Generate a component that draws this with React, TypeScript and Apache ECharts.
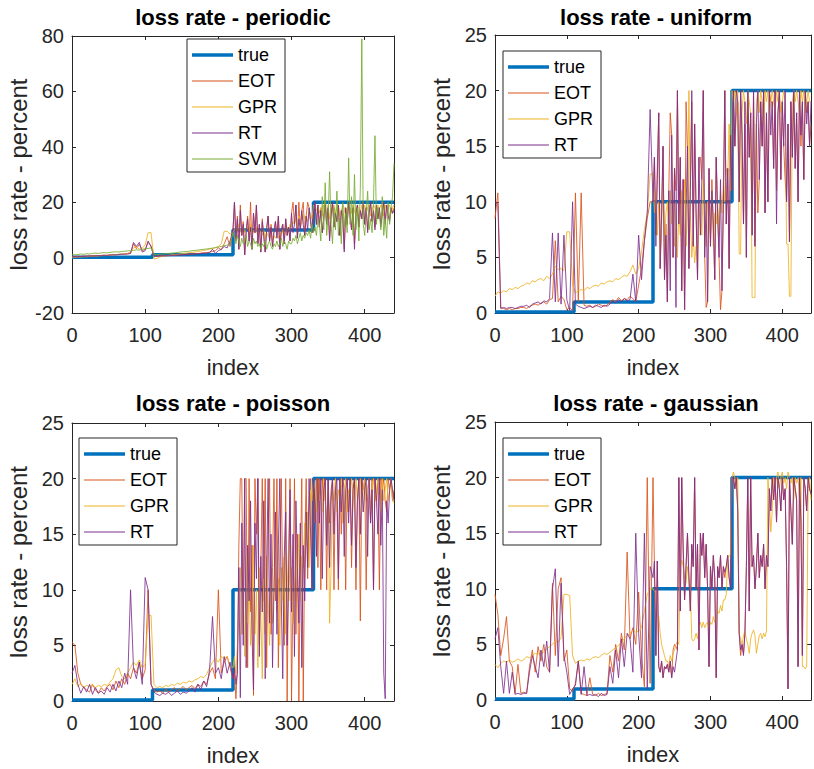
import { useEffect, useRef } from 'react';
import * as echarts from 'echarts';

const FONT = '"Liberation Sans", Arial, Helvetica, sans-serif';
const AXIS_COLOR = '#262626';

const COLORS: Record<string, string> = {
  true: '#0072BD',
  EOT: '#D95319',
  GPR: '#EDB120',
  RT: '#7E2F8E',
  SVM: '#77AC30',
};

// legend swatches: a bar inside a 41x18 box (the moveTo points fix the box)
const THICK_ICON = 'path://M0,0M41,18M0,7.25H41V10.75H0Z';
const THIN_ICON = 'path://M0,0M41,18M0,8.5H41V9.5H0Z';

// estimated values: every 4th index for 0..216, every 2nd index for 220..440
const LOW_STEP = 4;
const HIGH_START = 220;
const HIGH_STEP = 2;

// true loss rate: level held from each start index to the next
const trueStarts = [0, 110, 220, 330, 440];
const trueLevels = [0.1, 1, 10, 20, 20];

const xTicks = [0, 100, 200, 300, 400];

// ---- periodic ----
const periodicEOTLow = [
  0.3, 0.4, 0.5, 0.4, 0.6, 0.5, 0.7, 0.6, 0.8, 0.7,
  0.8, 0.9, 0.8, 1.0, 1.1, 1.0, 1.2, 1.3, 1.2, 1.4,
  1.5, 5.0, 3.2, 4.8, 2.5, 3.0, 5.5, 4.2, 0.5, 0.4,
  0.6, 0.7, 0.6, 0.8, 0.9, 0.8, 1.0, 1.1, 1.0, 1.2,
  1.3, 1.2, 1.5, 1.4, 1.6, 1.8, 1.7, 2.0, 2.2, 2.5,
  3.5, 2.8, 5.0, 7.5, 4.0,
];
const periodicEOTHigh = [
  10, 20, 7, 15, 3, 19, 8, 13, 1, 10,
  15, 6, 20, 3, 16, 9, 19, 5, 12, 2,
  14, 8, 2, 11, 15, 6, 12, 4, 10, 13,
  8, 15, 3, 10, 12, 5, 14, 8, 11, 6,
  16, 20, 12, 19, 7, 20, 10, 17, 20, 8,
  15, 20, 18, 13, 9, 16, 20, 12, 19, 11,
  18, 9, 14, 20, 12, 18, 7, 15, 20, 11,
  16, 13, 19, 8, 17, 15, 3, 18, 12, 20,
  15, 10, 18, 5, 16, 19, 11, 17, 14, 20,
  12, 18, 10, 16, 20, 13, 17, 11, 19, 14,
  18, 12, 16, 20, 13, 19, 15, 14, 18, 16,
  18,
];
const periodicGPRLow = [
  0.0, 0.1, 0.2, 0.2, 0.3, 0.3, 0.4, 0.5, 0.5, 0.6,
  0.7, 0.7, 0.8, 0.9, 1.0, 1.1, 1.1, 1.2, 1.3, 1.5,
  2.0, 3.5, 4.0, 3.0, 3.5, 4.5, 9.0, 9.0, -0.5, -0.3,
  0.2, 0.5, 0.6, 0.8, 1.0, 1.1, 1.2, 1.3, 1.5, 1.6,
  1.8, 1.9, 2.0, 2.2, 2.4, 2.6, 2.8, 3.0, 3.3, 3.6,
  4.0, 5.0, 9.5, 9.5, 8.5,
];
const periodicGPRHigh = [
  9, 10, 11, 9, 12, 10, 8, 11, 9, 10,
  11, 9, 12, 8, 10, 9, 11, 7, 10, 9,
  8, 10, 7, 9, 8, 7, 9, 6, 8, 7,
  8, 7, 9, 8, 10, 8, 9, 11, 10, 12,
  11, 13, 12, 14, 11, 15, 13, 12, 16, 14,
  15, 13, 17, 16, 14, 19, 18, 17, 19, 16,
  18, 15, 19, 17, 16, 19, 14, 18, 17, 19,
  16, 18, 19, 15, 17, 19, 18, 14, 17, 19,
  18, 16, 19, 17, 15, 19, 18, 16, 19, 17,
  19, 16, 18, 19, 15, 17, 19, 18, 16, 19,
  17, 19, 18, 15, 19, 17, 18, 19, 16, 18,
  19,
];
const periodicRTLow = [
  0.2, 0.3, 0.3, 0.4, 0.4, 0.5, 0.5, 0.6, 0.6, 0.7,
  0.7, 0.8, 0.8, 0.9, 1.0, 1.0, 1.1, 1.2, 1.3, 1.3,
  1.5, 5.5, 4.0, 5.5, 2.0, 2.5, 6.0, 4.0, 0.5, 0.5,
  0.6, 0.6, 0.7, 0.7, 0.8, 0.9, 0.9, 1.0, 1.0, 1.1,
  1.2, 1.3, 1.3, 1.4, 1.5, 1.5, 1.7, 1.8, 3.0, 1.5,
  2.5, 3.0, 4.0, 3.5, 6.0,
];
const periodicRTHigh = [
  10, 20, 6, 14, 3, 17, 8, 12, 1, 9,
  14, 6, 11, 3, 16, 9, 19, 5, 12, 2,
  13, 8, 2, 10, 15, 6, 11, 4, 9, 13,
  7, 15, 3, 10, 12, 5, 14, 8, 11, 6,
  16, 9, 12, 19, 7, 14, 10, 17, 12, 8,
  15, 10, 18, 13, 9, 16, 20, 12, 19, 11,
  17, 9, 14, 19, 12, 18, 6, 15, 20, 11,
  16, 13, 19, 8, 17, 14, 2, 18, 12, 20,
  15, 10, 18, 3, 16, 19, 11, 17, 14, 20,
  12, 18, 9, 16, 20, 13, 17, 10, 19, 14,
  18, 11, 16, 20, 12, 19, 15, 13, 18, 16,
  17,
];
const periodicSVMLow = [
  1.2, 1.0, 1.1, 1.3, 1.2, 1.4, 1.3, 1.5, 1.6, 1.5,
  1.7, 1.8, 1.7, 1.9, 2.0, 2.1, 2.0, 2.2, 2.3, 2.4,
  2.5, 2.6, 2.8, 2.7, 3.0, 3.2, 3.3, 3.5, 1.2, 1.0,
  1.2, 1.3, 1.4, 1.5, 1.6, 1.7, 1.9, 2.0, 2.1, 2.2,
  2.3, 2.5, 2.6, 2.7, 2.9, 3.0, 3.1, 3.3, 3.4, 3.6,
  3.8, 4.0, 4.3, 4.5, 5.0,
];
const periodicSVMHigh = [
  9, 7, 5, 8, 6, 4, 7, 5, 6, 8,
  4, 6, 5, 3, 7, 5, 6, 4, 5, 3,
  5, 4, 6, 3, 5, 6, 4, 3, 5, 4,
  6, 4, 5, 7, 4, 6, 5, 3, 6, 5,
  5, 7, 6, 8, 5, 7, 9, 6, 8, 7,
  9, 8, 10, 7, 12, 9, 11, 8, 14, 12,
  6, 22, 10, 27, 8, 15, 31, 12, 5, 18,
  10, 24, 8, 14, 5, 20, 11, 16, 9, 36,
  12, 22, 8, 30, 10, 18, 6, 25, 79, 12,
  8, 16, 24, 10, 14, 9, 20, 44, 12, 18,
  16, 10, 22, 8, 14, 7, 20, 12, 18, 22,
  34,
];

// ---- uniform ----
const uniformEOTLow = [
  8.5, 10.8, 0.5, 0.4, 0.3, 0.4, 0.3, 0.4, 0.4, 0.5,
  0.5, 0.4, 0.6, 0.7, 0.8, 0.7, 0.9, 1.0, 0.8, 1.2,
  1.3, 6.5, 1.0, 1.5, 1.2, 0.3, 0.5, 0.2, 10.8, 1.0,
  10.8, 0.7, 0.6, 0.7, 0.5, 0.6, 0.8, 0.7, 0.6, 0.7,
  1.0, 1.2, 1.0, 1.4, 1.1, 1.3, 1.2, 1.5, 1.3, 1.0,
  2.5, 4.0, 6.5, 8.5, 10.0,
];
const uniformEOTHigh = [
  10, 14, 7, 13, 18, 4, 9, 15, 3, 8,
  1, 11, 18, 16, 5, 13, 11, 20, 8, 14,
  2, 12, 0.3, 19, 15, 4, 11, 19, 6, 17,
  9, 3, 14, 14, 12, 20, 5, 0.5, 1, 13,
  6, 12, 8, 3, 14, 9, 5, 0.3, 2, 10,
  20, 8, 13, 4, 16, 11, 20, 15, 18, 19,
  10, 20, 16, 8, 17, 5, 20, 14, 18, 7,
  20, 6, 17, 9, 12, 19, 15, 20, 9, 18,
  10, 20, 19, 19, 13, 20, 11, 18, 20, 12,
  19, 15, 12, 10, 17, 6.4, 19, 14, 20, 13,
  18, 10, 20, 15, 19, 12, 20, 18, 19, 15,
  16.8,
];
const uniformGPRLow = [
  1.5, 1.9, 1.8, 2.0, 1.9, 2.2, 2.1, 2.3, 2.2, 2.4,
  2.5, 2.7, 2.6, 2.9, 2.8, 3.0, 3.1, 2.9, 3.3, 3.1,
  3.5, 4.2, 3.9, 4.0, 3.8, 7.3, 7.3, 2.5, 1.8, 2.0,
  2.1, 2.0, 2.3, 2.2, 2.4, 2.5, 2.4, 2.7, 2.6, 2.8,
  2.9, 2.8, 3.1, 3.0, 3.2, 3.4, 3.3, 3.7, 4.3, 3.5,
  4.0, 5.5, 7.5, 9.0, 12.5,
];
const uniformGPRHigh = [
  12.5, 9, 11, 7, 10, 5, 8, 12, 6, 9,
  10, 7, 11, 8, 9, 6, 10, 5, 9, 7,
  11, 8, 12, 6, 10, 20, 9, 5, 7, 4.5,
  6, 5.5, 8, 10, 7, 12, 9, 6, 10, 8,
  7, 11, 6, 9, 8, 10, 7, 11, 9, 12,
  10, 13, 12, 17, 11, 20, 19, 20, 18, 20,
  5.3, 5.3, 18, 20, 19, 17, 20, 19, 18, 1.4,
  1.4, 1.4, 19, 20, 18, 20, 19, 17, 20, 19,
  20, 18, 19, 20, 19, 18, 20, 19, 20, 18,
  19, 20, 19, 6.2, 6.2, 1.5, 1.5, 19, 20, 19,
  20, 19, 18, 20, 19, 20, 18, 19, 20, 19,
  19,
];
const uniformRTLow = [
  10.0, 9.8, 0.4, 0.5, 0.4, 0.5, 0.5, 0.4, 0.5, 0.6,
  0.6, 0.7, 0.5, 0.8, 0.9, 1.0, 0.8, 1.1, 1.0, 1.3,
  7.2, 1.0, 7.2, 0.8, 7.0, 1.2, 0.2, 10.0, 0.8, 0.6,
  0.5, 0.4, 0.5, 0.6, 0.5, 0.7, 0.6, 0.5, 0.7, 0.6,
  0.8, 1.1, 0.9, 1.2, 1.0, 1.3, 1.1, 1.2, 3.5, 1.0,
  7.0, 3.0, 6.5, 9.0, 18.3,
];
const uniformRTHigh = [
  10, 14, 6, 12, 18, 4, 9, 15, 3, 7,
  1, 11, 2, 16, 5, 13, 0.5, 20, 8, 14,
  2, 12, 0.3, 9, 15, 4, 11, 20, 6, 17,
  9, 3, 14, 7, 12, 20, 5, 10, 1, 13,
  6, 11, 8, 3, 14, 9, 5, 12, 2, 10,
  20, 8, 13, 4, 16, 11, 20, 15, 20, 19,
  10, 20, 16, 8, 19, 5, 20, 14, 18, 7,
  20, 6, 17, 20, 12, 19, 15, 20, 9, 18,
  10, 20, 16, 19, 13, 20, 8, 18, 20, 12,
  19, 15, 20, 10, 17, 6.4, 19, 14, 20, 13,
  18, 10, 20, 16, 19, 12, 20, 17, 19, 15,
  19,
];

// ---- poisson ----
const poissonEOTLow = [
  5.3, 5.0, 2.5, 1.5, 1.2, 1.0, 0.8, 1.5, 1.0, 0.7,
  1.2, 0.9, 1.3, 1.5, 1.0, 1.8, 1.2, 2.0, 1.5, 2.5,
  2.0, 3.0, 2.5, 3.5, 2.0, 2.8, 10.0, 1.5, 1.0, 0.8,
  0.9, 0.7, 1.1, 0.8, 1.0, 1.2, 0.9, 1.1, 1.3, 1.0,
  1.2, 1.4, 1.1, 1.5, 1.3, 1.8, 1.5, 2.5, 3.0, 2.0,
  10.0, 2.5, 3.5, 4.0, 3.0,
];
const poissonEOTHigh = [
  2, 2.5, 0.2, 3, 14, 20, 20, 6, 20, 20,
  3, 20, 8, 14, 0.5, 20, 15, 20, 5, 12,
  20, 9, 20, 3, 15, 20, 6, 12, 20, 9,
  20, 3, 13, 20, 10, 5, 20, 0, 13, 20,
  0, 10, 20, 6, 15, 0, 12, 20, 0, 14,
  20, 11, 17, 20, 10, 20, 16, 20, 12, 20,
  10, 20, 18, 20, 10, 20, 16, 19, 20, 10,
  20, 18, 10, 20, 15, 20, 19, 10, 20, 17,
  20, 12, 19, 20, 10, 18, 20, 7.2, 20, 19,
  20, 10, 19, 20, 16, 20, 10, 20, 18, 20,
  10, 20, 19, 20, 18, 17, 20, 19, 20, 18,
  19,
];
const poissonGPRLow = [
  1.5, 2.0, 1.3, 1.6, 1.2, 1.4, 1.3, 1.5, 1.2, 1.4,
  1.3, 1.5, 1.4, 1.7, 2.0, 2.8, 3.0, 2.2, 2.0, 2.5,
  3.0, 3.5, 3.2, 3.7, 3.0, 3.3, 7.7, 7.7, 1.5, 1.2,
  1.3, 1.2, 1.4, 1.3, 1.5, 1.4, 1.6, 1.5, 1.7, 1.6,
  1.8, 1.7, 1.9, 2.0, 2.2, 2.1, 2.4, 3.0, 3.5, 3.8,
  3.5, 4.0, 3.8, 4.0, 3.2,
];
const poissonGPRHigh = [
  3, 4, 2.5, 5, 8, 12, 6, 10, 4, 13,
  7, 11, 5, 9, 14, 6, 10, 3, 12, 8,
  2, 11, 6, 13, 9, 5, 12, 7, 10, 14,
  8, 11, 5, 12, 9, 13, 6, 10, 14, 9,
  12, 7, 10, 14, 11, 15, 9, 13, 12, 16,
  14, 17, 12, 19, 18, 20, 19, 17, 20, 18,
  19, 17, 20, 18, 16, 19, 7, 12, 19, 18,
  20, 17, 19, 18, 20, 16, 19, 20, 17, 19,
  18, 20, 19, 17, 20, 18, 19, 20, 17, 19,
  20, 18, 19, 20, 17, 19, 20, 18, 19, 20,
  19, 17, 20, 18, 19, 20, 18, 19, 20, 18,
  17.8,
];
const poissonRTLow = [
  2.5, 3.2, 1.5, 0.7, 1.3, 0.8, 1.5, 0.6, 1.2, 0.7,
  0.9, 0.6, 1.2, 0.8, 1.5, 0.9, 1.8, 1.2, 2.5, 1.5,
  10.0, 3.0, 2.0, 3.5, 1.5, 11.1, 10.0, 1.5, 0.8, 0.6,
  0.5, 0.7, 0.6, 0.8, 0.5, 0.7, 0.9, 0.6, 0.8, 0.7,
  0.9, 1.2, 0.8, 1.5, 1.0, 1.8, 1.3, 2.8, 7.6, 2.5,
  3.0, 2.0, 4.0, 2.5, 3.5,
];
const poissonRTHigh = [
  2, 3, 1.5, 2.5, 12, 0.3, 16, 5, 20, 3,
  14, 9, 18, 6, 1, 16, 11, 20, 4, 13,
  8, 18, 2, 12, 20, 7, 15, 3, 10, 17,
  6, 14, 20, 9, 2, 13, 17, 5, 11, 19,
  8, 15, 4, 18, 12, 7, 16, 3, 14, 9,
  17, 12, 20, 15, 10, 20, 18, 13, 20, 16,
  20, 11, 19, 20, 14, 20, 12, 18, 20, 15,
  19, 20, 11, 20, 17, 20, 13, 19, 20, 16,
  20, 14, 19, 20, 12, 18, 20, 15, 20, 17,
  19, 20, 13, 20, 16, 19, 10, 20, 18, 15,
  20, 14, 19, 2.5, 0.2, 18, 16, 19, 20, 19,
  18,
];

// ---- gaussian ----
const gaussianEOTLow = [
  9.5, 7.7, 4.0, 5.5, 7.5, 3.5, 3.0, 0.6, 3.2, 0.6,
  0.7, 0.6, 3.0, 4.5, 2.5, 4.8, 3.5, 5.0, 3.0, 2.5,
  10.5, 4.0, 10.0, 11.0, 3.5, 4.5, 1.0, 0.8, 1.5, 3.5,
  0.6, 0.5, 0.4, 2.0, 0.5, 0.4, 0.6, 0.4, 0.5, 0.6,
  4.0, 2.5, 5.0, 3.5, 6.0, 4.5, 13.3, 5.5, 6.5, 5.0,
  9.7, 4.0, 1.2, 20.0, 1.5,
];
const gaussianEOTHigh = [
  20, 12, 4, 12.5, 3, 2.5, 3.5, 2, 3, 2.8,
  3.2, 2.5, 3.5, 2, 4.5, 5, 4.8, 4.5, 20, 8,
  20, 13, 9, 12, 15, 11, 8, 14, 12, 20,
  10, 14, 4.5, 15, 13, 15, 11, 14, 10, 3,
  12, 10, 13, 11, 2, 12, 11, 13, 10, 12,
  11, 12, 13, 11, 10, 20, 20, 19, 20, 17,
  6, 4, 5, 4.2, 6, 12, 20, 8, 20, 12,
  13, 10, 12, 15, 11, 13, 12, 14, 10, 13,
  12, 19, 17, 20, 18, 20, 16, 20, 19, 17,
  20, 18, 19, 12, 1, 20, 17, 14, 20, 19,
  18, 3, 20, 16, 4, 20, 19, 17, 20, 19,
  18.5,
];
const gaussianGPRLow = [
  3.2, 2.9, 3.3, 3.5, 3.4, 3.6, 3.4, 3.5, 3.7, 3.5,
  3.6, 3.9, 3.8, 4.0, 4.2, 4.1, 4.4, 4.3, 4.6, 4.8,
  5.0, 5.3, 5.2, 5.6, 9.5, 9.5, 9.4, 4.0, 3.3, 3.5,
  3.6, 3.5, 3.7, 3.6, 3.8, 3.9, 3.8, 4.0, 4.2, 4.1,
  4.3, 4.5, 4.7, 4.9, 5.2, 5.5, 5.8, 6.0, 6.3, 6.1,
  6.2, 6.5, 8.0, 9.5, 10.0,
];
const gaussianGPRHigh = [
  10, 9.8, 9.5, 7.5, 7.5, 6, 5, 4.5, 4, 3.5,
  3.5, 3, 4, 3.5, 4.2, 4.5, 5, 5.3, 5, 12,
  12.6, 12, 11, 10.5, 12, 11, 10, 5.5, 5.3, 5.5,
  6, 5.5, 6.5, 7, 6.5, 7, 6.5, 6.8, 7, 6.5,
  7, 6.8, 7.5, 7, 7.5, 8, 7.8, 8.5, 8, 9,
  9, 9.5, 12.7, 13, 13, 20, 20.5, 20, 19, 20,
  6, 5.5, 5, 5.8, 6.2, 5.5, 5, 4.2, 5.5, 6,
  6.3, 5.8, 4.2, 5, 5.8, 6, 5.5, 6, 5.7, 6.2,
  20, 18, 15.1, 17, 20, 19, 20, 20.5, 19, 20,
  20.5, 19.5, 20, 19, 20.5, 20, 19.5, 20, 18, 20,
  19.5, 20, 18, 20, 3, 3, 2.8, 3, 19, 20,
  18,
];
const gaussianRTLow = [
  5.5, 6.5, 3.0, 0.6, 3.5, 0.6, 2.5, 0.5, 0.6, 0.5,
  0.6, 0.6, 2.5, 4.0, 3.0, 2.0, 4.5, 3.0, 5.3, 2.5,
  10.0, 11.8, 3.0, 10.5, 4.0, 2.5, 0.5, 1.0, 1.3, 3.5,
  0.5, 3.0, 0.4, 0.5, 0.4, 0.5, 0.3, 0.6, 0.4, 0.5,
  3.0, 1.5, 4.5, 2.0, 5.5, 3.0, 6.0, 5.5, 2.5, 15.0,
  6.0, 2.0, 15.0, 1.0, 12.0,
];
const gaussianRTHigh = [
  11, 12.5, 4, 12.5, 3, 2.5, 3.5, 2, 3, 2.8,
  3.2, 2.5, 3.5, 2, 3, 2.5, 3.5, 4.5, 20, 8,
  20, 14, 9, 12, 15, 11, 8, 14, 12, 20,
  10, 14, 4.5, 15, 13, 15, 11, 14, 10, 3,
  12, 10, 13, 11, 2, 12, 11, 13, 10, 12,
  11.5, 12, 13, 11, 10, 20, 20, 19, 20, 17,
  6, 4.5, 5, 4, 6, 12, 20, 8, 20, 12,
  13, 10, 12, 15, 11, 13, 12, 14, 10, 13,
  12, 19, 17, 20, 18, 20, 16, 20, 19, 17,
  20, 18, 19, 12, 1, 20, 17, 14, 20, 19,
  18, 3, 20, 16, 4, 20, 19, 17, 20, 19,
  18.5,
];

interface Panel {
  title: string;
  grid: { left: number; top: number; width: number; height: number };
  titleTop: number;
  yMin: number;
  yMax: number;
  yStep: number;
  legend: { left: number; top: number };
  models: [string, number[], number[]][];
}

const panels: Panel[] = [
  {
    title: 'loss rate - periodic',
    grid: { left: 72, top: 36, width: 322, height: 277 },
    titleTop: 6,
    yMin: -20,
    yMax: 80,
    yStep: 20,
    legend: { left: 187, top: 39 },
    models: [
      ['EOT', periodicEOTLow, periodicEOTHigh],
      ['GPR', periodicGPRLow, periodicGPRHigh],
      ['RT', periodicRTLow, periodicRTHigh],
      ['SVM', periodicSVMLow, periodicSVMHigh],
    ],
  },
  {
    title: 'loss rate - uniform',
    grid: { left: 495, top: 35, width: 322, height: 278 },
    titleTop: 6,
    yMin: 0,
    yMax: 25,
    yStep: 5,
    legend: { left: 503, top: 51 },
    models: [
      ['EOT', uniformEOTLow, uniformEOTHigh],
      ['GPR', uniformGPRLow, uniformGPRHigh],
      ['RT', uniformRTLow, uniformRTHigh],
    ],
  },
  {
    title: 'loss rate - poisson',
    grid: { left: 72, top: 423, width: 322, height: 278 },
    titleTop: 392,
    yMin: 0,
    yMax: 25,
    yStep: 5,
    legend: { left: 79, top: 438 },
    models: [
      ['EOT', poissonEOTLow, poissonEOTHigh],
      ['GPR', poissonGPRLow, poissonGPRHigh],
      ['RT', poissonRTLow, poissonRTHigh],
    ],
  },
  {
    title: 'loss rate - gaussian',
    grid: { left: 495, top: 422, width: 322, height: 278 },
    titleTop: 392,
    yMin: 0,
    yMax: 25,
    yStep: 5,
    legend: { left: 503, top: 438 },
    models: [
      ['EOT', gaussianEOTLow, gaussianEOTHigh],
      ['GPR', gaussianGPRLow, gaussianGPRHigh],
      ['RT', gaussianRTLow, gaussianRTHigh],
    ],
  },
];

function toPoints(low: number[], high: number[]): [number, number][] {
  return [
    ...low.map((v, i) => [i * LOW_STEP, v] as [number, number]),
    ...high.map((v, i) => [HIGH_START + i * HIGH_STEP, v] as [number, number]),
  ];
}

function buildOption(): echarts.EChartsOption {
  const grid: any[] = [];
  const title: any[] = [];
  const xAxis: any[] = [];
  const yAxis: any[] = [];
  const legend: any[] = [];
  const series: any[] = [];

  const axisLine = { show: true, onZero: false, lineStyle: { color: AXIS_COLOR, width: 1 } };
  const axisTick = { show: true, inside: true, length: 4, lineStyle: { color: AXIS_COLOR } };
  const labelStyle = { color: AXIS_COLOR, fontSize: 20, fontFamily: FONT };
  const nameStyle = { color: AXIS_COLOR, fontSize: 22, fontFamily: FONT };

  panels.forEach((p, k) => {
    grid.push({ ...p.grid, containLabel: false });
    title.push({
      text: p.title,
      left: p.grid.left + p.grid.width / 2,
      top: p.titleTop,
      textAlign: 'center',
      padding: 0,
      textStyle: { fontSize: 22, fontWeight: 'bold', color: '#000', fontFamily: FONT },
    });

    const xBase = {
      type: 'value',
      gridIndex: k,
      min: 0,
      max: 440,
      interval: 100,
      axisLine,
      axisTick,
      splitLine: { show: false },
    };
    xAxis.push({
      ...xBase,
      position: 'bottom',
      name: 'index',
      nameLocation: 'middle',
      nameGap: 43,
      nameTextStyle: nameStyle,
      axisLabel: {
        ...labelStyle,
        margin: 12,
        formatter: (v: number) => (xTicks.includes(v) ? String(v) : ''),
      },
    });
    xAxis.push({ ...xBase, position: 'top', axisLabel: { show: false } });

    const yBase = {
      type: 'value',
      gridIndex: k,
      min: p.yMin,
      max: p.yMax,
      interval: p.yStep,
      axisLine,
      axisTick,
      splitLine: { show: false },
    };
    yAxis.push({
      ...yBase,
      position: 'left',
      name: 'loss rate - percent',
      nameLocation: 'middle',
      nameGap: 42,
      nameRotate: 90,
      nameTextStyle: { ...nameStyle, fontSize: 24 },
      axisLabel: { ...labelStyle, margin: 8 },
    });
    yAxis.push({ ...yBase, position: 'right', axisLabel: { show: false } });

    const names = ['true', ...p.models.map((m) => m[0])];
    legend.push({
      show: true,
      orient: 'vertical',
      left: p.legend.left,
      top: p.legend.top,
      data: names.map((name) => ({ name, icon: name === 'true' ? THICK_ICON : THIN_ICON })),
      itemWidth: 41,
      itemHeight: 18,
      itemGap: 8,
      padding: [7, 8, 4, 5],
      backgroundColor: '#fff',
      borderColor: AXIS_COLOR,
      borderWidth: 1,
      borderRadius: 0,
      selectedMode: false,
      textStyle: { fontSize: 18, color: '#000', fontFamily: FONT },
    });

    series.push({
      name: 'true',
      type: 'line',
      xAxisIndex: 2 * k,
      yAxisIndex: 2 * k,
      step: 'end',
      symbol: 'none',
      data: trueStarts.map((x, i) => [x, trueLevels[i]]),
      lineStyle: { color: COLORS.true, width: 3.5 },
      itemStyle: { color: COLORS.true },
      z: 2,
    });
    p.models.forEach(([name, low, high]) => {
      series.push({
        name,
        type: 'line',
        xAxisIndex: 2 * k,
        yAxisIndex: 2 * k,
        symbol: 'none',
        data: toPoints(low, high),
        lineStyle: { color: COLORS[name], width: 1, opacity: 0.85 },
        itemStyle: { color: COLORS[name] },
        z: 2,
      });
    });
  });

  return {
    animation: false,
    backgroundColor: '#fff',
    textStyle: { fontFamily: FONT },
    title,
    grid,
    xAxis,
    yAxis,
    legend,
    series,
  };
}

export default function App() {
  const chartRef = useRef<HTMLDivElement>(null);

  useEffect(() => {
    if (!chartRef.current) return;
    const chart = echarts.init(chartRef.current, undefined, { renderer: 'svg' });
    chart.setOption(buildOption());
    return () => {
      chart.dispose();
    };
  }, []);

  return (
    <div
      ref={chartRef}
      style={{ position: 'fixed', left: 0, top: 0, width: 814, height: 769, background: '#fff' }}
    />
  );
}
